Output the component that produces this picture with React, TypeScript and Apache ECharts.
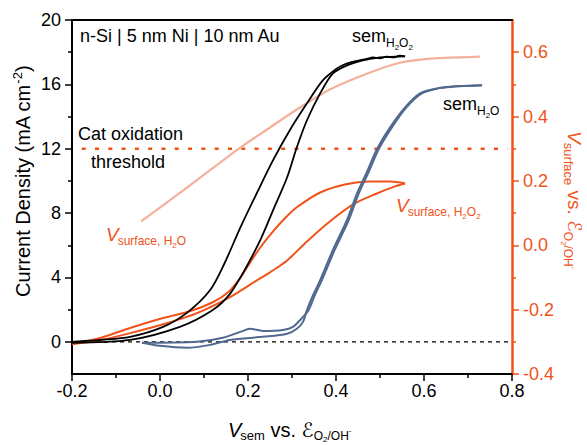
import React, { useEffect, useRef } from 'react';
import * as echarts from 'echarts';

// ---------- data ----------
const leftTicks = [0, 4, 8, 12, 16, 20];
const leftMinor = [2, 6, 10, 14, 18];
const rightTicks = [-0.4, -0.2, 0, 0.2, 0.4, 0.6];
const rightMinor = [-0.3, -0.1, 0.1, 0.3, 0.5];

// sem H2O2 (left axis, mA cm-2), two sweeps
const semH2O2aX = [-0.2, -0.136, -0.068, 0.007, 0.061, 0.114, 0.148, 0.182, 0.22, 0.257, 0.295, 0.334, 0.37, 0.402, 0.42, 0.432, 0.445, 0.455, 0.47, 0.484, 0.5, 0.515, 0.53, 0.545, 0.557];
const semH2O2aY = [0, 0.12, 0.31, 0.93, 1.8, 3.22, 4.96, 7.07, 9.24, 11.29, 13.15, 14.82, 16.25, 16.99, 17.25, 17.36, 17.45, 17.5, 17.58, 17.67, 17.62, 17.72, 17.68, 17.78, 17.74];
const semH2O2bX = [-0.2, -0.068, 0.045, 0.12, 0.159, 0.195, 0.23, 0.259, 0.289, 0.311, 0.334, 0.364, 0.393, 0.425, 0.461, 0.5, 0.557];
const semH2O2bY = [-0.06, 0.12, 0.93, 1.98, 2.98, 4.59, 6.45, 8.31, 10.23, 12.09, 13.77, 15.44, 16.68, 17.18, 17.49, 17.67, 17.74];

// sem H2O (left axis), two sweeps
const semH2OaX = [-0.041, 0.0, 0.061, 0.114, 0.159, 0.234, 0.289, 0.311, 0.325, 0.334, 0.348, 0.364, 0.393, 0.425, 0.448, 0.47, 0.493, 0.523, 0.557, 0.591, 0.63, 0.67, 0.7, 0.732];
const semH2OaY = [-0.06, -0.25, -0.37, -0.19, 0.12, 0.31, 0.5, 0.81, 1.24, 1.98, 2.91, 3.84, 5.71, 7.57, 9.24, 10.54, 11.97, 13.33, 14.57, 15.44, 15.75, 15.88, 15.9, 15.94];
const semH2ObX = [-0.041, 0.084, 0.143, 0.189, 0.205, 0.234, 0.28, 0.302, 0.323, 0.338, 0.352, 0.368, 0.397, 0.429, 0.452, 0.474, 0.497, 0.527, 0.56, 0.595, 0.632, 0.67, 0.7, 0.732];
const semH2ObY = [-0.06, 0.0, 0.25, 0.68, 0.81, 0.68, 0.74, 0.93, 1.49, 1.98, 2.91, 3.84, 5.71, 7.57, 9.24, 10.54, 11.97, 13.33, 14.57, 15.44, 15.75, 15.86, 15.92, 15.94];

// V surface H2O2 (right axis, V), loop
const vsH2O2aX = [-0.2, -0.136, -0.068, 0.007, 0.068, 0.12, 0.155, 0.182, 0.205, 0.23, 0.257, 0.284, 0.311, 0.364, 0.42, 0.477, 0.523, 0.557];
const vsH2O2aY = [-0.307, -0.288, -0.257, -0.226, -0.205, -0.177, -0.146, -0.102, -0.053, -0.003, 0.043, 0.084, 0.118, 0.164, 0.189, 0.198, 0.198, 0.192];
const vsH2O2bX = [-0.2, -0.136, -0.068, 0.023, 0.084, 0.159, 0.22, 0.25, 0.289, 0.334, 0.386, 0.439, 0.493, 0.534, 0.557];
const vsH2O2bY = [-0.307, -0.295, -0.273, -0.239, -0.211, -0.161, -0.109, -0.084, -0.047, 0.012, 0.074, 0.127, 0.161, 0.183, 0.192];

// V surface H2O (right axis)
const vsH2OX = [-0.043, 0.068, 0.177, 0.25, 0.318, 0.386, 0.47, 0.545, 0.614, 0.682, 0.727];
const vsH2OY = [0.074, 0.186, 0.298, 0.366, 0.428, 0.484, 0.533, 0.567, 0.58, 0.584, 0.586];

// reference lines
const zeroLineX = [-0.2, 0.8];
const zeroLineY = [0, 0];
const thresholdX = [-0.178, 0.79];
const thresholdY = [12, 12];

// ---------- style ----------
const ORANGE = '#f0521a';
const SALMON = '#f5b09a';
const BLUE = '#52698f';
const FONT = '"Liberation Sans", Arial, "DejaVu Sans", sans-serif';

const zip = (xs: number[], ys: number[]) => xs.map((x, i) => [x, ys[i]]);

let ctx: CanvasRenderingContext2D | null = null;
function textWidth(t: string, size: number, italic?: boolean) {
  if (!ctx) ctx = document.createElement('canvas').getContext('2d');
  ctx!.font = `${italic ? 'italic ' : ''}${size}px ${FONT}`;
  return ctx!.measureText(t).width;
}

type Piece = [string, number, number, boolean?, number?];
function pieces(list: Piece[], color: string) {
  let x = 0;
  const out: any[] = [];
  for (const [t, size, dy, italic, dx] of list) {
    x += dx || 0;
    out.push({
      type: 'text',
      x,
      y: dy - 0.35 * size,
      silent: true,
      style: {
        text: t,
        fill: color,
        font: `${italic ? 'italic ' : ''}${size}px ${FONT}`,
        textAlign: 'left',
        textVerticalAlign: 'middle',
      },
    });
    x += textWidth(t, size, italic);
  }
  return out;
}
function label(x: number, y: number, list: Piece[], color: string, rotation = 0) {
  return { type: 'group', x, y, rotation, silent: true, children: pieces(list, color) };
}

function buildOption() {
  const line = (data: number[][], color: string, width: number, yAxisIndex: number, extra: any = {}) => ({
    type: 'line',
    data,
    xAxisIndex: 0,
    yAxisIndex,
    showSymbol: false,
    symbol: 'none',
    smooth: 0.3,
    silent: true,
    lineStyle: { color, width },
    ...extra,
  });
  const tickLabel = { fontSize: 18, fontFamily: FONT };
  return {
    animation: false,
    backgroundColor: '#fff',
    grid: { left: 72, right: 75, top: 20, bottom: 71, containLabel: false, outerBoundsMode: 'none' },
    xAxis: [
      {
        type: 'value',
        position: 'bottom',
        min: -0.2,
        max: 0.8,
        interval: 0.2,
        splitLine: { show: false },
        axisLine: { onZero: false, lineStyle: { color: '#000', width: 2 } },
        axisTick: { length: 7, lineStyle: { color: '#000', width: 1.5 } },
        minorTick: { show: true, splitNumber: 2, length: 4, lineStyle: { color: '#000', width: 1.5 } },
        axisLabel: { ...tickLabel, color: '#000', margin: 8, formatter: (v: number) => v.toFixed(1) },
      },
      {
        type: 'value',
        position: 'top',
        min: -0.2,
        max: 0.8,
        splitLine: { show: false },
        axisLine: { show: true, onZero: false, lineStyle: { color: '#000', width: 2 } },
        axisTick: { show: false },
        axisLabel: { show: false },
      },
    ],
    yAxis: [
      {
        type: 'value',
        position: 'left',
        min: -2,
        max: 20,
        splitLine: { show: false },
        axisLine: { show: true, onZero: false, lineStyle: { color: '#000', width: 2 } },
        axisTick: { show: true, length: 7, customValues: leftTicks, lineStyle: { color: '#000', width: 1.5 } },
        axisLabel: { ...tickLabel, color: '#000', margin: 11, customValues: leftTicks },
      },
      {
        type: 'value',
        position: 'right',
        min: -0.4,
        max: 0.7,
        splitLine: { show: false },
        axisLine: { show: true, onZero: false, lineStyle: { color: ORANGE, width: 2.5 } },
        axisTick: { show: true, length: 7, customValues: rightTicks, lineStyle: { color: ORANGE, width: 1.5 } },
        axisLabel: { ...tickLabel, color: ORANGE, margin: 11, customValues: rightTicks, formatter: (v: number) => v.toFixed(1) },
      },
      {
        type: 'value',
        position: 'left',
        min: -2,
        max: 20,
        splitLine: { show: false },
        axisLine: { show: false, onZero: false },
        axisTick: { show: true, length: 4, customValues: leftMinor, lineStyle: { color: '#000', width: 1.5 } },
        axisLabel: { show: false },
      },
      {
        type: 'value',
        position: 'right',
        min: -0.4,
        max: 0.7,
        splitLine: { show: false },
        axisLine: { show: false, onZero: false },
        axisTick: { show: true, length: 4, customValues: rightMinor, lineStyle: { color: ORANGE, width: 1.5 } },
        axisLabel: { show: false },
      },
    ],
    series: [
      line(zip(zeroLineX, zeroLineY), '#000', 1.2, 0, { smooth: false, lineStyle: { color: '#000', width: 1.2, type: [4, 4] } }),
      line(zip(thresholdX, thresholdY), ORANGE, 2.5, 0, { smooth: false, lineStyle: { color: ORANGE, width: 2.5, type: [4, 9.3] } }),
      line(zip(vsH2OX, vsH2OY), SALMON, 2.2, 1),
      line(zip(vsH2O2aX, vsH2O2aY), ORANGE, 2, 1),
      line(zip(vsH2O2bX, vsH2O2bY), ORANGE, 2, 1),
      line(zip(semH2O2aX, semH2O2aY), '#000', 1.8, 0),
      line(zip(semH2O2bX, semH2O2bY), '#000', 1.8, 0),
      line(zip(semH2OaX, semH2OaY), BLUE, 2, 0),
      line(zip(semH2ObX, semH2ObY), BLUE, 2, 0),
    ],
    graphic: [
      label(80, 42, [['n-Si | 5 nm Ni | 10 nm Au', 18, 0]], '#000'),
      label(78, 140, [['Cat oxidation', 18, 0]], '#000'),
      label(91, 168, [['threshold', 18, 0]], '#000'),
      label(352, 42, [['sem', 18, 0], ['H', 12, 5], ['2', 8, 8], ['O', 12, 5], ['2', 8, 8]], '#000'),
      label(443, 110, [['sem', 18, 0], ['H', 12, 5], ['2', 8, 8], ['O', 12, 5]], '#000'),
      label(106, 241, [['V', 19, 0, true], ['surface, H', 12, 4, false, -1], ['2', 8, 7], ['O', 12, 4]], ORANGE),
      label(396, 212, [['V', 19, 0, true], ['surface, H', 12, 4, false, -1], ['2', 8, 7], ['O', 12, 4], ['2', 8, 7]], ORANGE),
      label(228, 437, [['V', 20, 0, true], ['sem', 13, 3, false, -1], [' vs. ', 20, 0], ['ℰ', 20, 0], ['O', 12, 3], ['2', 8, 5], ['/OH', 12, 3], ['-', 8, -4]], '#000'),
      label(30, 297, [['Current Density (mA cm', 20, 0], ['-2', 13, -8], [')', 20, 0]], '#000', Math.PI / 2),
      label(568, 131, [['V', 19, 0, true], ['surface', 13, 4, false, -1], [' vs. ', 19, 0], ['ℰ', 19, 0], ['O', 12, 4], ['2', 8, 7], ['/OH', 12, 4], ['-', 8, -3]], ORANGE, -Math.PI / 2),
    ],
  };
}

export default function App() {
  const ref = useRef<HTMLDivElement>(null);
  useEffect(() => {
    document.body.style.margin = '0';
    const chart = echarts.init(ref.current!, null, { renderer: 'svg' });
    chart.setOption(buildOption() as any);
    return () => chart.dispose();
  }, []);
  return <div ref={ref} style={{ width: 587, height: 445, background: '#fff' }} />;
}
